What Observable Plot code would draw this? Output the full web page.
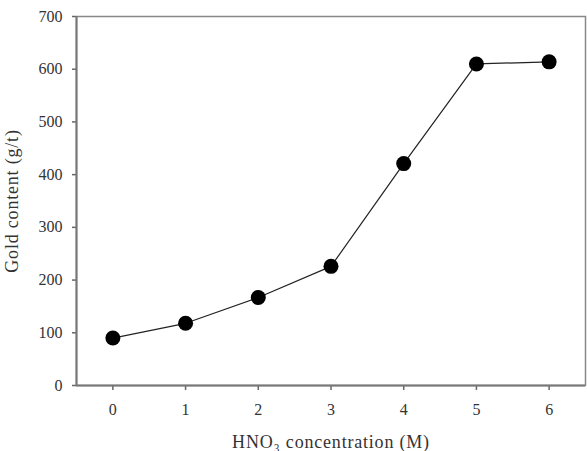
<!DOCTYPE html>
<html>
<head>
<meta charset="utf-8">
<script src="https://cdn.jsdelivr.net/npm/d3@7"></script>
<script src="https://cdn.jsdelivr.net/npm/@observablehq/plot@0.6"></script>
<style>
  html, body { margin: 0; padding: 0; background: #fff; }
  svg { font-family: "Liberation Serif", "DejaVu Serif", serif; }
  g[aria-label="x-axis label"] text, g[aria-label="y-axis label"] text { letter-spacing: 0.8px; }
</style>
</head>
<body>
<div id="chart"></div>
<script>
const concentration = [0, 1, 2, 3, 4, 5, 6];
const goldContent = [90, 118, 167, 226, 421, 610, 614];
const xTicks = [0, 1, 2, 3, 4, 5, 6];
const yTicks = [0, 100, 200, 300, 400, 500, 600, 700];

const data = concentration.map((c, i) => ({x: c, y: goldContent[i]}));

const chart = Plot.plot({
  width: 587,
  height: 451,
  marginLeft: 76,
  marginRight: 2,
  marginTop: 16,
  marginBottom: 66,
  style: {fontFamily: "'Liberation Serif', serif", fontSize: "16px", color: "#333", background: "#fff"},
  x: {domain: [-0.5, 6.5]},
  y: {domain: [0, 700]},
  marks: [
    Plot.frame({stroke: "#888", strokeWidth: 1.5}),
    Plot.axisX({ticks: xTicks, tickFormat: d3.format("d"), tickSize: 5, tickPadding: 13, stroke: "#666", strokeWidth: 1.5,
      label: null, fontSize: 16, fill: "#333"}),
    Plot.axisX({ticks: [], tickSize: 0, label: "HNO₃ concentration (M)", labelAnchor: "center", labelArrow: "none",
      labelOffset: 62, fontSize: 18, fill: "#333"}),
    Plot.axisY({ticks: yTicks, tickSize: 4, tickPadding: 10, stroke: "#666", strokeWidth: 1.5,
      label: null, fontSize: 16, fill: "#333"}),
    Plot.axisY({ticks: [], tickSize: 0, label: "Gold content (g/t)", labelAnchor: "center", labelArrow: "none",
      labelOffset: 71, fontSize: 18, fill: "#333"}),
    Plot.ruleY([0], {stroke: "#777", strokeWidth: 2}),
    Plot.ruleX([-0.5], {stroke: "#777", strokeWidth: 2}),
    Plot.line(data, {x: "x", y: "y", stroke: "#222", strokeWidth: 1.2}),
    Plot.dot(data, {x: "x", y: "y", r: 7.5, fill: "#000", stroke: "none"})
  ]
});
document.getElementById("chart").appendChild(chart);
</script>
</body>
</html>
